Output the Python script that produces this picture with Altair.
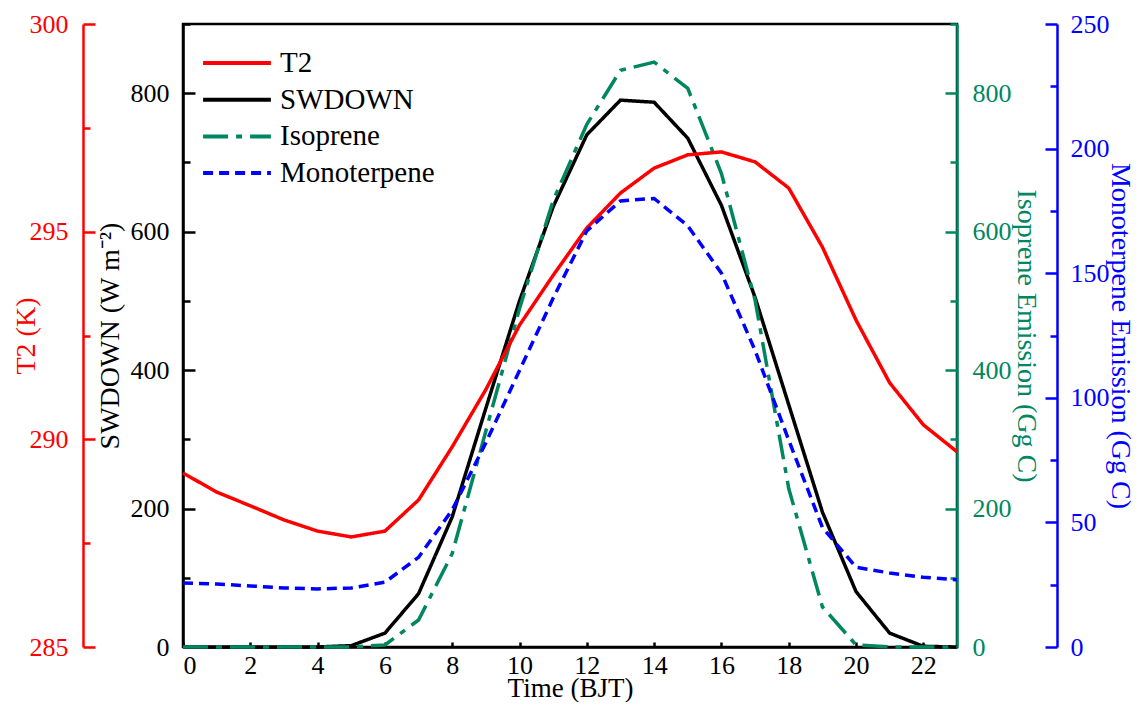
import altair as alt
import pandas as pd

hours = list(range(24))
t2 = [289.19, 288.73, 288.40, 288.06, 287.79, 287.65, 287.79, 288.54, 289.82, 291.2,
      292.75, 293.95, 295.09, 295.93, 296.53, 296.85, 296.92, 296.68, 296.05, 294.63,
      292.87, 291.36, 290.35, 289.70]
swdown = [0, 0, 0, 0, 0, 2, 20, 77, 188, 345, 500, 636, 740, 790, 787, 735, 638, 505,
          350, 195, 80, 20, 1, 0]
isoprene = [0, 0, 0, 0, 0, 0, 3, 39, 135, 312, 489, 645, 755, 833, 845, 807, 684, 501,
            229, 58, 3, 0, 0, 0]
monoterpene = [25.7, 25.3, 24.5, 23.7, 23.3, 23.7, 26, 36, 55, 82, 111, 140, 167, 179,
               180, 169, 150, 119, 83, 48, 32, 29.7, 28, 27]

series_names = ["T2", "SWDOWN", "Isoprene", "Monoterpene"]
series_colors = ["#FF0000", "#000000", "#00875F", "#0000FF"]
series_dashes = [[1, 0], [1, 0], [25, 8, 6, 8], [10, 6]]

x_ticks = list(range(0, 23, 2))
t2_ticks = [285 + 2.5 * i for i in range(7)]
sw_ticks = list(range(0, 901, 100))
iso_ticks = list(range(0, 901, 100))
mono_ticks = list(range(0, 251, 25))

rows = []
for name, vals in zip(series_names, [t2, swdown, isoprene, monoterpene]):
    for h, v in zip(hours, vals):
        rows.append({"hour": h, "value": v, "series": name})
df = pd.DataFrame(rows)

FONT = "Liberation Serif, Times New Roman, serif"

legend = alt.Legend(
    title=None, orient="none", legendX=18, legendY=27, symbolType="stroke",
    symbolSize=4600, symbolStrokeWidth=4, labelFontSize=29, labelFont=FONT,
    labelColor="black", labelOffset=7, clipHeight=24, rowPadding=7.7,
)
color = alt.Color("series:N", scale=alt.Scale(domain=series_names, range=series_colors),
                  legend=legend)
dash = alt.StrokeDash("series:N", scale=alt.Scale(domain=series_names, range=series_dashes),
                      legend=legend)

x = alt.X("hour:Q", scale=alt.Scale(domain=[0, 23], nice=False),
          axis=alt.Axis(values=x_ticks, title="Time (BJT)", tickSize={"expr": "-5"},
                        labelPadding=10, titlePadding=-3, titleFontSize=27,
                        domainColor="black", tickColor="black", labelColor="black",
                        titleColor="black"))


def ycol(domain, ticks, step, title, col, orient, offset, pad, tpad):
    return alt.Y(
        "value:Q",
        scale=alt.Scale(domain=domain, nice=False, zero=False),
        axis=alt.Axis(
            orient=orient, offset=offset, values=ticks, title=title,
            labelExpr=f"datum.value % {step} === 0 ? datum.label : ''",
            tickSize={"condition": {"test": f"datum.value % {step} === 0", "value": -12},
                      "value": -7},
            labelPadding=pad, titlePadding=tpad,
            domainColor=col, tickColor=col, labelColor=col, titleColor=col,
        ),
    )


def layer(name, y):
    return (
        alt.Chart(df)
        .transform_filter(alt.datum.series == name)
        .mark_line(strokeWidth=3.5, strokeCap="butt")
        .encode(x=x, y=y, color=color, strokeDash=dash)
    )


sw_layer = layer("SWDOWN", ycol([0, 900], sw_ticks, 200, "SWDOWN (W m⁻²)", "#000000",
                                "left", 0, 26, 6))
iso_layer = layer("Isoprene", ycol([0, 900], iso_ticks, 200, "Isoprene Emission (Gg C)",
                                   "#00875F", "right", 0, 27, 0))
t2_layer = layer("T2", ycol([285, 300], t2_ticks, 5, "T2 (K)", "#FF0000", "left", 100, 27, -11))
mono_layer = layer("Monoterpene", ycol([0, 250], mono_ticks, 50, "Monoterpene Emission (Gg C)",
                                       "#0000FF", "right", 100, 25, -4))

chart = (
    alt.layer(sw_layer, iso_layer, t2_layer, mono_layer)
    .resolve_scale(y="independent")
    .properties(
        width=774, height=623,
        autosize=alt.AutoSizeParams(type="none"),
        padding={"left": 175, "top": 16, "right": 179, "bottom": 55},
    )
    .configure_view(stroke="black", strokeWidth=2.5)
    .configure_axis(
        labelFont=FONT, titleFont=FONT, labelFontSize=26, titleFontSize=28,
        titleFontWeight="normal", domainWidth=2.5, tickWidth=2.5, grid=False,
    )
)

chart.save("out.html", embed_options={"renderer": "svg", "actions": False})
